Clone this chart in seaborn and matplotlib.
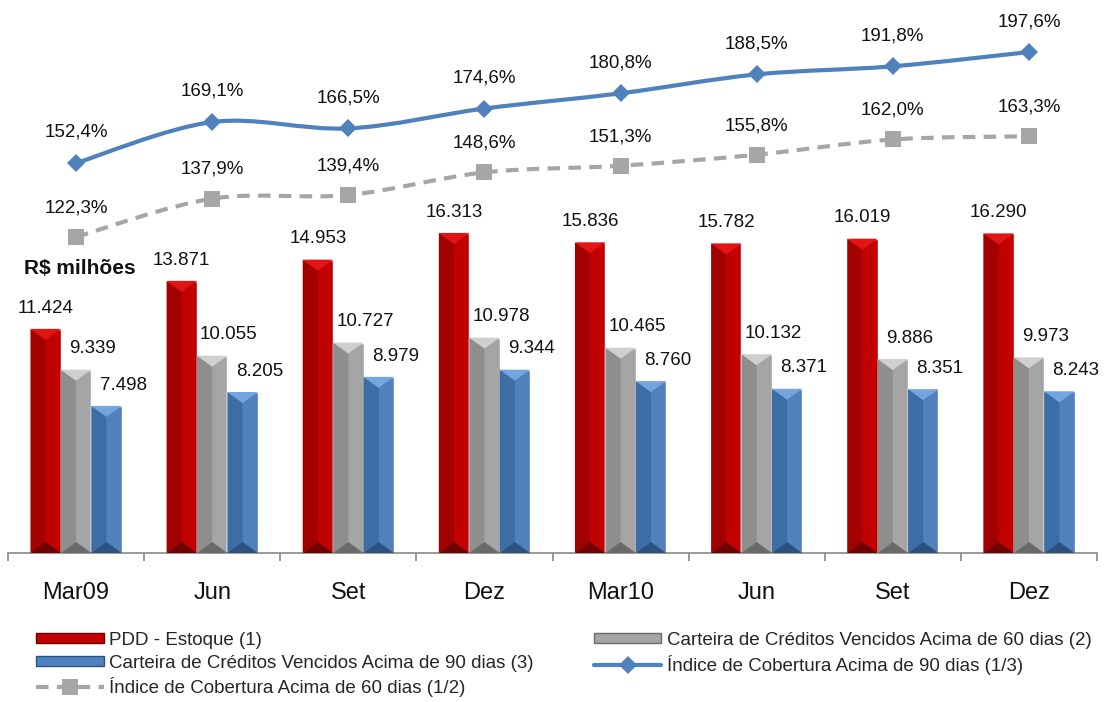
"""
PDD x carteira vencida - barras 3D com índices de cobertura
"""

import numpy as np
import pandas as pd
import matplotlib
matplotlib.use("Agg")
import matplotlib.pyplot as plt
from matplotlib.path import Path
from matplotlib.patches import PathPatch, Patch
from matplotlib.lines import Line2D
import seaborn as sns

# dados
periodos = ['Mar09', 'Jun09', 'Set09', 'Dez09', 'Mar10', 'Jun10', 'Set10', 'Dez10']
rotulos_x = ['Mar09', 'Jun', 'Set', 'Dez', 'Mar10', 'Jun', 'Set', 'Dez']

series_barras = ['PDD - Estoque (1)',
                 'Carteira de Créditos Vencidos Acima de 60 dias (2)',
                 'Carteira de Créditos Vencidos Acima de 90 dias (3)']
pdd = [11424, 13871, 14953, 16313, 15836, 15782, 16019, 16290]
venc_60 = [9339, 10055, 10727, 10978, 10465, 10132, 9886, 9973]
venc_90 = [7498, 8205, 8979, 9344, 8760, 8371, 8351, 8243]

serie_ind90 = 'Índice de Cobertura Acima de 90 dias (1/3)'
serie_ind60 = 'Índice de Cobertura Acima de 60 dias (1/2)'
ind_90 = [152.4, 169.1, 166.5, 174.6, 180.8, 188.5, 191.8, 197.6]
ind_60 = [122.3, 137.9, 139.4, 148.6, 151.3, 155.8, 162.0, 163.3]

# cores: base, lado esquerdo, triângulo de cima, triângulo de baixo
cores = {
    'red': ('#C30000', '#A30000', '#E21414', '#700000'),
    'gray': ('#A5A5A5', '#8E8E8E', '#CFCFCF', '#6A6A6A'),
    'blue': ('#4F81BD', '#3D6DA5', '#74A5E0', '#2C5282'),
}
cores_barras = ['red', 'gray', 'blue']
cor_ind90 = '#4F81BD'
cor_ind60 = '#A6A6A6'


def fmt_milhar(v):
    return f"{v:,}".replace(",", ".")


def fmt_pct(v):
    return f"{v:.1f}".replace(".", ",") + "%"


def caminho_suave(xs, ys):
    """curva suavizada (Catmull-Rom -> Bezier) passando pelos pontos"""
    pts = np.column_stack([xs, ys]).astype(float)
    ext = np.vstack([pts[0], pts, pts[-1]])
    verts = [pts[0]]
    codes = [Path.MOVETO]
    for i in range(1, len(ext) - 2):
        p0, p1, p2, p3 = ext[i - 1], ext[i], ext[i + 1], ext[i + 2]
        c1 = p1 + (p2 - p0) / 6
        c2 = p2 - (p3 - p1) / 6
        verts += [c1, c2, p2]
        codes += [Path.CURVE4] * 3
    return Path(verts, codes)


sns.set_style("white")
plt.rcParams['font.family'] = ['Liberation Sans', 'DejaVu Sans']

df = pd.DataFrame({
    'periodo': periodos * 3,
    'serie': np.repeat(series_barras, len(periodos)),
    'valor': pdd + venc_60 + venc_90,
})

fig = plt.figure(figsize=(11.04, 7.02), dpi=100)
ax = fig.add_axes([8 / 1104, 149 / 702, 1089 / 1104, 553 / 702])

sns.barplot(data=df, x='periodo', y='valor', hue='serie', order=periodos,
            hue_order=series_barras, palette=[cores[c][0] for c in cores_barras],
            width=0.67, gap=0, saturation=1, legend=False, ax=ax)

ymax_barras = 28186
ax.set_ylim(0, ymax_barras)
ax.set_xlim(-0.5, len(periodos) - 0.5)

# efeito de bisel 3D nas barras + rótulos
d = 11 / (553 / ymax_barras)  # ~11 px em unidades de dados
valores_barras = [pdd, venc_60, venc_90]
for k, cont in enumerate(ax.containers):
    base, lado, topo, fundo = cores[cores_barras[k]]
    for barra, val in zip(cont, valores_barras[k]):
        x0 = barra.get_x()
        w = barra.get_width()
        h = barra.get_height()
        xm = x0 + w / 2
        ax.fill([x0, xm, xm, x0], [0, d, h - d, h], color=lado, lw=0, zorder=3)
        ax.fill([x0, x0 + w, xm], [h, h, h - d], color=topo, lw=0, zorder=3)
        ax.fill([x0, x0 + w, xm], [0, 0, d], color=fundo, lw=0, zorder=3)
        dx = 0 if k == 0 else 12
        ax.annotate(fmt_milhar(val), (xm, h), xytext=(dx, 15), textcoords='offset points',
                    ha='center', va='center', fontsize=13.5, color='#111111')

ax.set_xticks(range(len(periodos)))
ax.set_xticklabels(rotulos_x, fontsize=17)
ax.set_xticks(np.arange(-0.5, len(periodos)), minor=True)
ax.tick_params(axis='x', which='major', length=0, pad=21, colors='#111111')
ax.tick_params(axis='x', which='minor', length=6, width=1.2, color='#898989', bottom=True)
ax.set_yticks([])
ax.set_xlabel('')
ax.set_ylabel('')
for lado_spine in ['top', 'right', 'left']:
    ax.spines[lado_spine].set_visible(False)
ax.spines['bottom'].set_color('#898989')
ax.spines['bottom'].set_linewidth(1.2)

# índices de cobertura no eixo secundário
ax2 = ax.twinx()
ax2.set_ylim(-6.4, 218.8)
xs = np.arange(len(periodos))

ax2.add_patch(PathPatch(caminho_suave(xs, ind_60), fill=False, edgecolor=cor_ind60,
                        lw=3, linestyle=(0, (3, 2)), capstyle='butt', zorder=4))
ax2.add_patch(PathPatch(caminho_suave(xs, ind_90), fill=False, edgecolor=cor_ind90,
                        lw=3, zorder=4))
sns.lineplot(x=xs, y=ind_60, ax=ax2, color=cor_ind60, marker='s', markersize=11,
             markeredgewidth=0, linestyle='', zorder=5)
sns.lineplot(x=xs, y=ind_90, ax=ax2, color=cor_ind90, marker='D', markersize=9,
             markeredgewidth=0, linestyle='', zorder=5)

for x, v in zip(xs, ind_90):
    ax2.annotate(fmt_pct(v), (x, v), xytext=(0, 22), textcoords='offset points',
                 ha='center', va='center', fontsize=13.5, color='#111111')
for x, v in zip(xs, ind_60):
    ax2.annotate(fmt_pct(v), (x, v), xytext=(0, 21), textcoords='offset points',
                 ha='center', va='center', fontsize=13.5, color='#111111')

ax2.set_xlim(-0.5, len(periodos) - 0.5)
ax2.set_yticks([])
ax2.set_ylabel('')
for s in ax2.spines.values():
    s.set_visible(False)

fig.text(80 / 1104, 1 - 268 / 702, 'R$ milhões', ha='center', va='center',
         fontsize=15, fontweight='bold', color='#111111')

# legenda em duas colunas
h_pdd = Patch(facecolor=cores['red'][0], edgecolor=cores['red'][3], lw=1)
h_60 = Patch(facecolor=cores['gray'][0], edgecolor=cores['gray'][3], lw=1)
h_90 = Patch(facecolor=cores['blue'][0], edgecolor=cores['blue'][3], lw=1)
h_i90 = Line2D([], [], color=cor_ind90, lw=3, marker='D', markersize=9, markeredgewidth=0)
h_i60 = Line2D([], [], color=cor_ind60, lw=3, linestyle=(0, (3, 2)), marker='s',
               markersize=11, markeredgewidth=0)

opcoes_leg = dict(loc='upper left', frameon=False, fontsize=13.5, borderpad=0,
                  borderaxespad=0, handlelength=3.6, handleheight=0.45,
                  handletextpad=0.3, labelspacing=0.3, numpoints=1)
leg1 = fig.legend([h_pdd, h_90, h_i60], [series_barras[0], series_barras[2], serie_ind60],
                  bbox_to_anchor=(36 / 1104, 1 - 632 / 702), **opcoes_leg)
leg2 = fig.legend([h_60, h_i90], [series_barras[1], serie_ind90],
                  bbox_to_anchor=(594 / 1104, 1 - 632 / 702), **opcoes_leg)

fig.savefig('out.png', dpi=100)
